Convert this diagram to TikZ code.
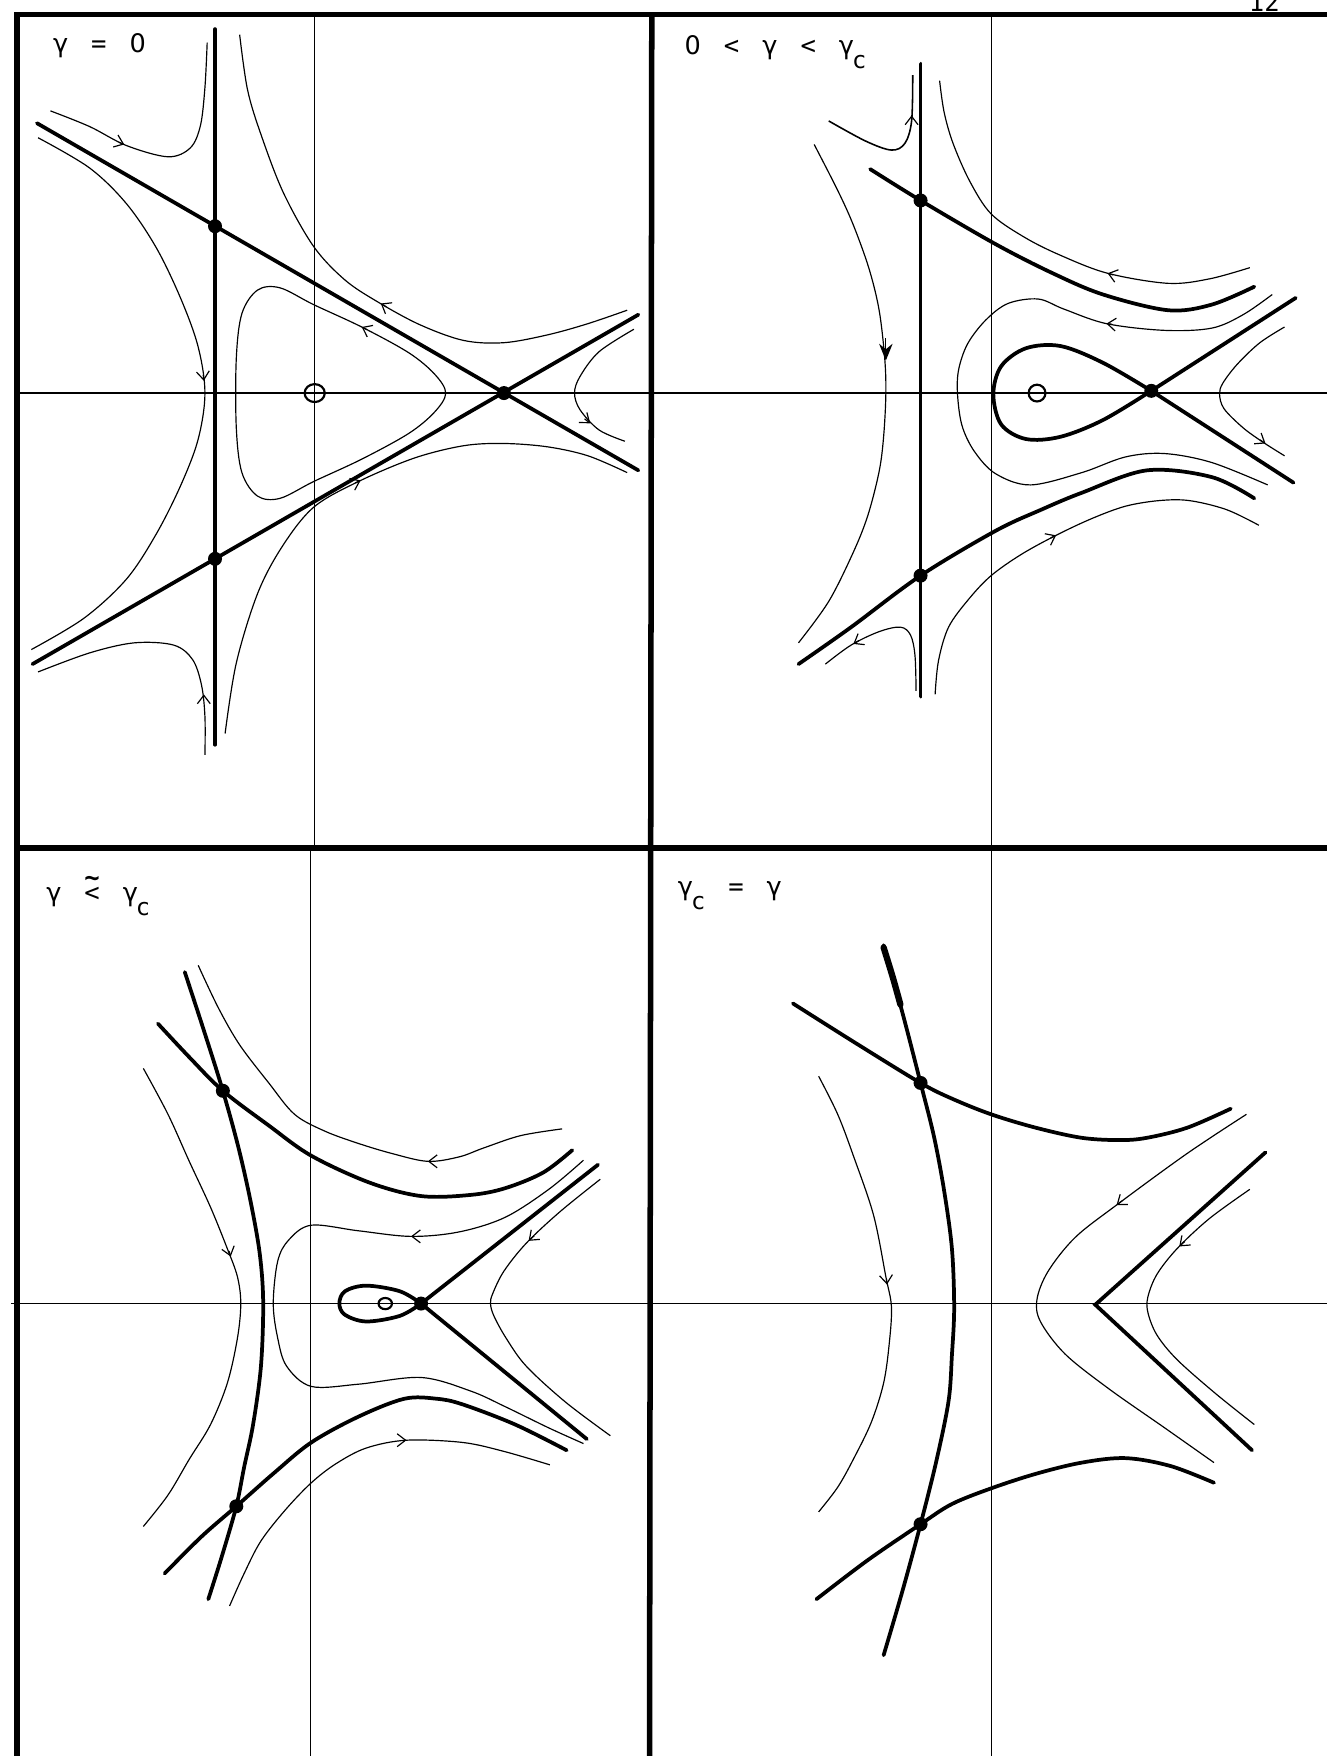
\documentclass[tikz,border=0pt]{standalone}
\usepackage{fontspec}
\newfontfamily\lblfont{DejaVu Sans Mono}
\newfontfamily\zerofont{DejaVu Sans}
\usetikzlibrary{arrows.meta,calc}
\newcommand\flowtip[5][tip]{\draw[#1] ($(#2,#3)-5*(#4,#5)$) -- (#2,#3);}
\newcommand\subc{\hspace{-0.08em}\raisebox{-0.55em}{\fontsize{12}{12}\selectfont c}}
\newcommand\tildeless{\rlap{\raisebox{0.6em}{\bfseries\textasciitilde}}<}
\newcommand\gp{\hspace{0.9em}}
\newcommand\zr{{\zerofont 0}}
\newcommand\gm{{\zerofont γ}}
\begin{document}
\begin{tikzpicture}[x=0.2mm,y=-0.2mm,
  border/.style={line width=2.8pt},
  axis/.style={line width=0.6pt},
  thickc/.style={line width=1.9pt, line cap=round, line join=round},
  thinc/.style={line width=0.6pt},
  dot/.style={circle, fill=black, inner sep=0pt, minimum size=2.5mm},
  ctr/.style={line width=1.1pt},
  lbl/.style={font=\lblfont\fontsize{13}{13}\selectfont, inner sep=0pt, anchor=base west},
  tip/.style={line width=0.6pt, -{Straight Barb[length=1.5mm,width=2.3mm]}},
  boldtip/.style={line width=0.6pt, -{Stealth[length=3mm,width=2.4mm]}},
  sm/.style={smooth, tension=0.55}
]
\useasboundingbox (0,0) rectangle (1185,1568);

% axes
\draw[axis] (281,14) -- (281,757);
\draw[axis] (885,14) -- (885,757);
\draw[axis] (277,757) -- (277,1568);
\draw[axis] (885,757) -- (885,1568);
\draw[axis] (15,351) -- (1185,351);
\draw[axis] (10,1164) -- (1185,1164);
% frame
\draw[border] (13,13) -- (1185,13);
\draw[border] (15,11) -- (15,1568);
\draw[border] (582,13) -- (580,1568);
\draw[border] (15,757) -- (1185,757);
\node[lbl, anchor=base] (pgnum) at (1129,10) {12};

% labels
\node[lbl] (l1) at (47,47) {\gm\gp=\gp\zr};
\node[lbl] (l2) at (611,49) {\zr\gp<\gp\gm\gp<\gp\gm\subc};
\node[lbl] (l3) at (41,805) {\gm\gp\tildeless\gp\gm\subc};
\node[lbl] (l4) at (605,800) {\gm\subc\gp=\gp\gm};

% ---------- panel 1 ----------
\draw[thickc] (192,26) -- (192,665);
\draw[thickc] (33,110) -- (570,420);
\draw[thickc] (29,593) -- (570,281);
\node[dot] (a1) at (192,202) {};
\node[dot] (a2) at (192,499) {};
\node[dot] (a3) at (450,351) {};
\draw[ctr] (281,351) ellipse [x radius=9, y radius=8];
\draw[thinc] plot[smooth cycle, tension=0.55] coordinates {(398,351) (388,334) (365,315) (323,292) (280,272) (250,257) (230,259) (216,280) (211,320) (211,382) (216,422) (230,443) (250,445) (280,430) (323,410) (365,387) (388,368)};
\flowtip{323}{292}{-1}{-0.5}
\draw[thinc] plot[sm] coordinates {(45,99) (80,113) (113,130) (150,140) (170,132) (179,112) (183,78) (185,38)};
\flowtip{111}{129}{1}{0.4}
\draw[thinc] plot[sm] coordinates {(34,123) (80,150) (113,182) (140,222) (162,268) (177,310) (183,351) (177,392) (162,432) (140,476) (113,517) (75,552) (28,580)};
\flowtip{182}{340}{0.1}{1}
\draw[thinc] plot[sm] coordinates {(214,31) (221,80) (233,120) (253,172) (280,220) (308,250) (338,270) (375,290) (414,304) (450,306) (489,299) (525,289) (560,277)};
\flowtip{340}{271}{-1}{-0.6}
\draw[thinc] plot[sm] coordinates {(566,294) (535,314) (518,336) (513,351) (518,366) (535,384) (558,394)};
\flowtip{527}{378}{1}{0.8}
\draw[thinc] plot[sm] coordinates {(201,655) (211,592) (230,530) (252,488) (280,453) (320,430) (370,409) (414,398) (450,396) (489,399) (525,407) (560,422)};
\flowtip{322}{429}{1}{-0.45}
\draw[thinc] plot[sm] coordinates {(34,600) (80,583) (120,574) (155,576) (172,589) (180,612) (183,640) (183,674)};
\flowtip{182}{620}{0}{-1}

% ---------- panel 2 ----------
\draw[thickc] (822,57) -- (822,622);
\draw[thickc] plot[sm] coordinates {(777,151) (822,179) (889,218) (940,244) (985,263) (1043,277) (1082,272) (1120,256)};
\draw[thickc] plot[sm] coordinates {(713,593) (760,560) (822,514) (889,474) (930,455) (966,440) (1024,420) (1082,426) (1120,445)};
\draw[thickc] (1157,266) -- (1028,349);
\draw[thickc] (1028,349) -- (1155,431);
\draw[thickc] plot[sm] coordinates {(1028,349) (985,375) (947,390) (916,392) (894,379) (887,352) (894,327) (916,311) (947,309) (985,324) (1028,349)};
\node[dot] (b1) at (822,179) {};
\node[dot] (b2) at (822,514) {};
\node[dot] (b3) at (1028,349) {};
\draw[ctr] (926,351) ellipse [x radius=7.5, y radius=7.5];
\draw[thinc] plot[sm] coordinates {(1136,263) (1110,281) (1082,293) (1040,295) (988,289) (950,276) (927,267) (900,271) (880,286) (864,307) (856,330) (855,352) (859,380) (870,403) (889,423) (920,433) (966,422) (1005,408) (1040,405) (1082,413) (1132,433)};
\flowtip{988}{289}{-1}{-0.1}
\draw[thinc] plot[sm] coordinates {(839,72) (843,100) (851,128) (866,162) (885,191) (915,212) (947,228) (989,244) (1043,253) (1080,249) (1116,239)};
\flowtip{989}{244}{-1}{-0.3}
\draw[thinc, line width=0.8pt] plot[sm] coordinates {(740,108) (773,126) (796,134) (808,128) (814,108) (815,67)};
\flowtip{814}{103}{0}{-1}
\draw[thinc] plot[sm] coordinates {(727,129) (748,170) (762,201) (776,240) (785,277) (790,320) (791,352) (789,390) (785,421) (775,460) (762,493) (740,537) (713,574)};
\flowtip[boldtip]{791}{322}{0}{4}
\draw[thinc] plot[sm] coordinates {(737,593) (760,576) (785,564) (804,560) (813,567) (817,585) (818,617)};
\flowtip{762}{575}{-1}{0.6}
\draw[thinc] plot[sm] coordinates {(835,620) (838,590) (847,560) (865,535) (885,514) (912,495) (943,478) (975,463) (1005,452) (1035,447) (1062,447) (1095,455) (1124,469)};
\flowtip{943}{478}{1}{-0.5}
\draw[thinc] plot[sm] coordinates {(1147,292) (1125,306) (1105,325) (1092,342) (1089,352) (1093,365) (1110,382) (1128,395) (1147,407)};
\flowtip{1130}{396}{1}{0.65}

% ---------- panel 3 ----------
\draw[thickc] plot[sm] coordinates {(165,868) (182,920) (199,974) (213,1025) (224,1074) (232,1120) (235,1163) (233,1220) (226,1272) (218,1310) (211,1345) (198,1390) (186,1428)};
\draw[thickc] plot[sm] coordinates {(141,914) (170,945) (199,974) (240,1005) (278,1032) (330,1056) (376,1068) (420,1067) (451,1061) (485,1047) (511,1027)};
\draw[thickc] plot[sm] coordinates {(147,1405) (180,1372) (211,1345) (245,1315) (278,1288) (320,1265) (361,1249) (390,1249) (413,1254) (460,1272) (506,1295)};
\draw[thickc] (376,1164) -- (534,1040);
\draw[thickc] (376,1164) -- (524,1285);
\draw[thickc] plot[sm] coordinates {(376,1164) (357,1175) (327,1180) (308,1174) (303,1164) (308,1153) (327,1148) (357,1153) (376,1164)};
\node[dot] (c1) at (199,974) {};
\node[dot] (c2) at (211,1345) {};
\node[dot] (c3) at (376,1164) {};
\draw[ctr] (344,1164) ellipse [x radius=6, y radius=5];
\draw[thinc] plot[sm] coordinates {(128,954) (150,995) (169,1037) (188,1078) (203,1115) (212,1140) (215,1164) (212,1195) (203,1235) (188,1272) (169,1303) (150,1335) (128,1363)};
\flowtip{206}{1122}{0.3}{1}
\draw[thinc] plot[sm] coordinates {(177,862) (195,900) (214,933) (240,967) (263,995) (290,1010) (320,1021) (350,1030) (382,1037) (410,1033) (432,1025) (465,1014) (502,1008)};
\flowtip{382}{1037}{-1}{0}
\draw[thinc] plot[sm] coordinates {(521,1036) (490,1062) (451,1087) (410,1100) (367,1104) (320,1099) (278,1094) (258,1107) (248,1126) (244,1164) (248,1195) (256,1220) (278,1238) (320,1236) (376,1230) (420,1242) (451,1256) (490,1275) (521,1289)};
\flowtip{367}{1104}{-1}{0}
\draw[thinc] plot[sm] coordinates {(536,1053) (500,1082) (470,1110) (450,1135) (440,1155) (438,1164) (441,1175) (452,1195) (470,1220) (505,1252) (545,1282)};
\flowtip{472}{1108}{-1}{0.9}
\draw[thinc] plot[sm] coordinates {(205,1434) (218,1405) (233,1376) (255,1348) (278,1324) (300,1307) (327,1293) (363,1286) (413,1288) (450,1296) (491,1308)};
\flowtip{363}{1286}{1}{0}

% ---------- panel 4 ----------
\draw[thickc] plot[sm] coordinates {(789,844) (806,905) (822,967) (834,1015) (843,1063) (850,1115) (852,1168) (850,1210) (847,1251) (836,1305) (822,1361) (806,1420) (789,1478)};
\draw[line width=3.2pt, line cap=round] plot[sm] coordinates {(789,846) (797,872) (804,897)};
\draw[thickc] plot[sm] coordinates {(708,896) (765,932) (822,967) (850,981) (885,995) (925,1007) (966,1016) (1000,1018) (1024,1016) (1060,1007) (1099,990)};
\draw[thickc] plot[sm] coordinates {(729,1428) (775,1393) (822,1361) (850,1343) (885,1329) (925,1316) (966,1306) (1005,1302) (1045,1309) (1084,1324)};
\node[dot] (d1) at (822,967) {};
\node[dot] (d2) at (822,1361) {};
\draw[thickc, line join=miter] (1130,1029) -- (978,1165) -- (1118,1295);
\draw[thinc] plot[sm] coordinates {(1116,1062) (1080,1088) (1051,1115) (1033,1138) (1025,1158) (1025,1172) (1033,1192) (1051,1214) (1085,1244) (1120,1272)};
\flowtip{1053}{1113}{-1}{0.9}
\draw[thinc] plot[sm] coordinates {(1113,995) (1060,1030) (997,1076) (960,1105) (936,1135) (926,1160) (929,1180) (951,1209) (990,1240) (1040,1275) (1084,1306)};
\flowtip{997}{1076}{-1}{0.75}
\draw[thinc] plot[sm] coordinates {(731,961) (748,995) (762,1032) (780,1085) (791,1140) (796,1167) (794,1200) (789,1235) (778,1270) (762,1303) (748,1328) (731,1350)};
\flowtip{792}{1147}{0.1}{1}
\end{tikzpicture}
\end{document}
